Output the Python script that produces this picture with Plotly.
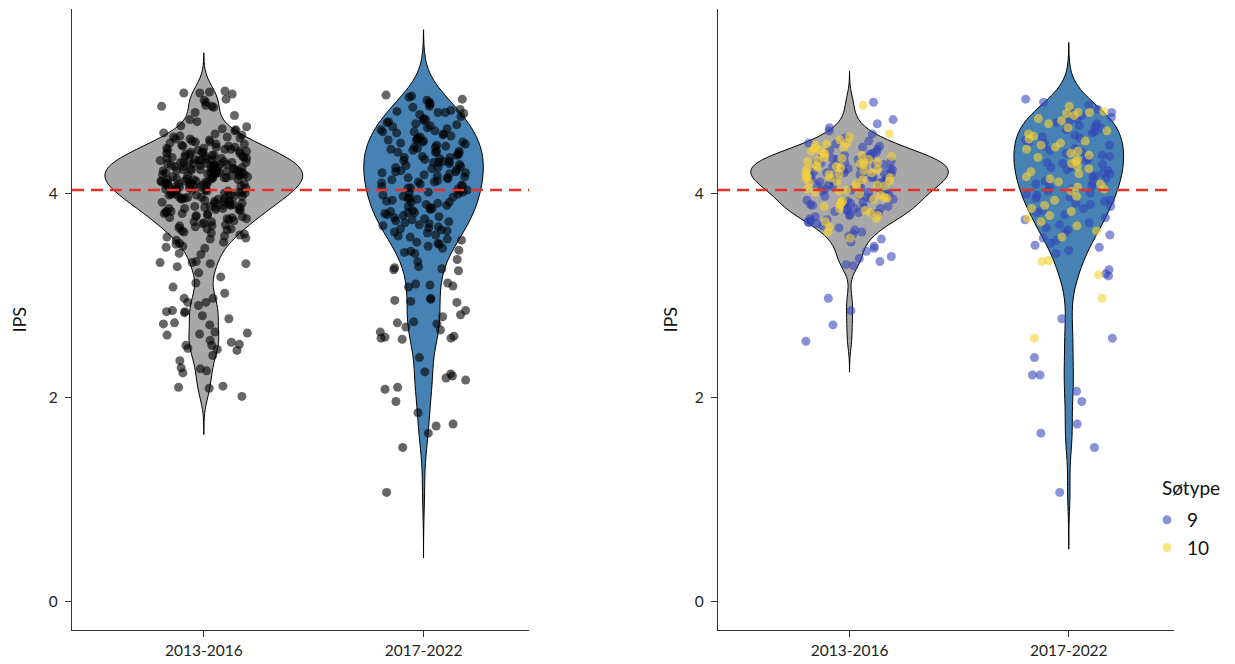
import numpy as np
import plotly.graph_objects as go

# ---------------- data ----------------
periods = ["2013-2016", "2017-2022"]
y_tick_values = [0, 2, 4]
reference_ips = 4.03
lake_types = ["9", "10"]
legend_title = "Søtype"

# left panel: all lakes
ips_all_2013_2016 = [
    5.00, 4.99, 4.98, 4.98, 4.97, 4.92, 4.91, 4.89, 4.86, 4.85, 4.85, 4.84, 4.79, 4.76, 4.72, 4.70,
    4.66, 4.65, 4.63, 4.62, 4.61, 4.59, 4.58, 4.57, 4.56,
    4.55, 4.55, 4.54, 4.53, 4.53, 4.52, 4.51, 4.50, 4.50, 4.49, 4.48, 4.48, 4.47, 4.46, 4.46, 4.45,
    4.45, 4.44, 4.44, 4.43, 4.43, 4.42, 4.42, 4.41, 4.41, 4.40, 4.40, 4.40, 4.39, 4.39, 4.38, 4.38,
    4.37, 4.37, 4.36, 4.36, 4.36, 4.35, 4.35,
    4.34, 4.34, 4.34, 4.33, 4.33, 4.33, 4.32, 4.32, 4.32, 4.31, 4.31, 4.30, 4.30, 4.30, 4.30, 4.29,
    4.29, 4.29, 4.28, 4.28, 4.28, 4.27, 4.27, 4.27, 4.26, 4.26, 4.26, 4.25, 4.25, 4.25,
    4.24, 4.24, 4.24, 4.23, 4.23, 4.23, 4.22, 4.22, 4.22, 4.22, 4.21, 4.21, 4.21, 4.20, 4.20, 4.20,
    4.20, 4.19, 4.19, 4.19, 4.18, 4.18, 4.18, 4.17, 4.17, 4.17, 4.16, 4.16, 4.16, 4.15, 4.15, 4.15,
    4.14, 4.14, 4.14, 4.13, 4.13, 4.13, 4.12, 4.12, 4.12, 4.11, 4.11, 4.11, 4.10, 4.10, 4.10, 4.10,
    4.09, 4.09, 4.09, 4.08, 4.08, 4.08, 4.07, 4.07, 4.07, 4.06, 4.06, 4.06, 4.05, 4.05,
    4.04, 4.04, 4.04, 4.03, 4.03, 4.03, 4.02, 4.02, 4.02, 4.01, 4.01, 4.00, 4.00, 4.00, 3.99, 3.99,
    3.98, 3.98, 3.98, 3.97, 3.97, 3.96, 3.96, 3.96, 3.95, 3.95, 3.95,
    3.94, 3.94, 3.93, 3.93, 3.92, 3.92, 3.91, 3.91, 3.90, 3.90, 3.89, 3.89, 3.88, 3.88, 3.87, 3.87,
    3.86, 3.86, 3.86, 3.85, 3.85, 3.85,
    3.84, 3.84, 3.83, 3.82, 3.82, 3.81, 3.80, 3.80, 3.79, 3.79, 3.78, 3.77, 3.77, 3.76, 3.76, 3.75, 3.75,
    3.74, 3.73, 3.72, 3.72, 3.71, 3.70, 3.69, 3.68, 3.68, 3.67, 3.66, 3.65, 3.65,
    3.64, 3.63, 3.62, 3.61, 3.60, 3.59, 3.58, 3.57, 3.56, 3.55,
    3.54, 3.52, 3.51, 3.50, 3.48, 3.47, 3.46,
    3.41, 3.40, 3.33, 3.32, 3.32, 3.31, 3.31, 3.28, 3.22, 3.18, 3.12, 3.08, 3.02, 2.97, 2.97, 2.93,
    2.93, 2.90, 2.85, 2.84, 2.84, 2.83, 2.80, 2.77, 2.73, 2.72, 2.71, 2.64, 2.63, 2.62, 2.61, 2.56,
    2.54, 2.52, 2.51, 2.51, 2.48, 2.47, 2.46, 2.41, 2.36, 2.29, 2.28, 2.26, 2.24, 2.11, 2.10, 2.09,
    2.01,
]

ips_all_2017_2022 = [
    4.96, 4.95, 4.94, 4.92, 4.91,
    4.89, 4.88, 4.87, 4.85, 4.84, 4.82, 4.81,
    4.80, 4.79, 4.79, 4.78, 4.77, 4.75, 4.73, 4.72, 4.71,
    4.70, 4.69, 4.68, 4.67, 4.66, 4.65, 4.64, 4.63, 4.62, 4.61, 4.60,
    4.60, 4.59, 4.58, 4.57, 4.56, 4.55, 4.54, 4.53, 4.52, 4.52, 4.51, 4.50,
    4.50, 4.49, 4.48, 4.47, 4.46, 4.45, 4.45, 4.44, 4.43, 4.42, 4.41, 4.41, 4.40,
    4.40, 4.39, 4.38, 4.37, 4.36, 4.35, 4.35, 4.34, 4.33, 4.32, 4.31, 4.31, 4.30,
    4.30, 4.29, 4.28, 4.27, 4.26, 4.25, 4.25, 4.24, 4.23, 4.22, 4.21, 4.21, 4.20,
    4.20, 4.19, 4.18, 4.17, 4.16, 4.15, 4.15, 4.14, 4.13, 4.12, 4.11, 4.11, 4.10,
    4.09, 4.08, 4.07, 4.06, 4.05, 4.05, 4.04, 4.03, 4.02, 4.01, 4.01, 4.00,
    3.99, 3.98, 3.97, 3.96, 3.95, 3.95, 3.94, 3.93, 3.92, 3.91, 3.91, 3.90,
    3.89, 3.88, 3.87, 3.86, 3.85, 3.84, 3.83, 3.82, 3.81, 3.81, 3.80,
    3.79, 3.78, 3.77, 3.76, 3.75, 3.74, 3.73, 3.72, 3.71, 3.70,
    3.69, 3.68, 3.67, 3.66, 3.65, 3.64, 3.63, 3.62, 3.61,
    3.59, 3.58, 3.57, 3.55, 3.54, 3.52, 3.51, 3.50,
    3.48, 3.46, 3.44, 3.43, 3.42, 3.41, 3.35, 3.33, 3.28, 3.27, 3.26, 3.25, 3.24, 3.12, 3.11, 3.10,
    3.09, 3.08, 2.97, 2.96, 2.95, 2.94, 2.93, 2.85, 2.81, 2.79, 2.74, 2.73, 2.72, 2.69, 2.66, 2.64,
    2.60, 2.59, 2.58, 2.58, 2.57, 2.39, 2.25, 2.23, 2.21, 2.19, 2.17, 2.10, 2.08, 1.96, 1.85, 1.74,
    1.72, 1.65, 1.51, 1.07,
]

# right panel: lake types 9 and 10
ips_type9_2013_2016 = [
    4.89, 4.72, 4.68, 4.64, 4.61, 4.58, 4.54, 4.51,
    4.49, 4.48, 4.46, 4.45, 4.43, 4.42, 4.40,
    4.39, 4.38, 4.37, 4.37, 4.36, 4.35, 4.34, 4.33, 4.33, 4.32, 4.31, 4.30,
    4.30, 4.29, 4.29, 4.28, 4.27, 4.27, 4.26, 4.25, 4.24, 4.24, 4.23, 4.22, 4.21, 4.21, 4.20,
    4.20, 4.19, 4.19, 4.18, 4.17, 4.17, 4.16, 4.15, 4.14, 4.14, 4.13, 4.12, 4.11, 4.11, 4.10,
    4.09, 4.08, 4.08, 4.07, 4.06, 4.05, 4.05, 4.04, 4.03, 4.02, 4.01, 4.01, 4.00,
    3.99, 3.98, 3.97, 3.96, 3.95, 3.94, 3.93, 3.92, 3.91, 3.90, 3.90,
    3.89, 3.88, 3.87, 3.86, 3.85, 3.85, 3.84, 3.83, 3.82, 3.81, 3.80, 3.80,
    3.79, 3.78, 3.77, 3.75, 3.74, 3.73, 3.72, 3.71, 3.70,
    3.68, 3.66, 3.64, 3.62, 3.60, 3.58, 3.55, 3.52,
    3.48, 3.46, 3.43, 3.38, 3.36, 3.33, 3.30, 3.29, 2.97, 2.85, 2.71, 2.55,
]
ips_type10_2013_2016 = [
    4.86, 4.58, 4.55, 4.52,
    4.49, 4.48, 4.47, 4.45, 4.44, 4.42, 4.41,
    4.39, 4.38, 4.37, 4.36, 4.35, 4.34, 4.33, 4.32, 4.31, 4.30,
    4.30, 4.29, 4.28, 4.27, 4.26, 4.25, 4.25, 4.24, 4.23, 4.22, 4.21, 4.20,
    4.19, 4.18, 4.17, 4.16, 4.15, 4.15, 4.14, 4.13, 4.12, 4.11, 4.10,
    4.09, 4.08, 4.07, 4.06, 4.04, 4.03, 4.02, 4.01,
    3.99, 3.98, 3.96, 3.95, 3.94, 3.92, 3.91,
    3.89, 3.87, 3.85, 3.83, 3.81, 3.78, 3.75, 3.72, 3.67, 3.62, 3.56,
]
ips_type9_2017_2022 = [
    4.92, 4.89, 4.86, 4.82, 4.79, 4.78, 4.76, 4.74, 4.72, 4.70,
    4.69, 4.68, 4.66, 4.65, 4.63, 4.62, 4.60, 4.59, 4.57, 4.55, 4.54, 4.52, 4.50,
    4.49, 4.47, 4.46, 4.44, 4.42, 4.40, 4.39, 4.37, 4.36, 4.34, 4.32, 4.30,
    4.29, 4.28, 4.26, 4.25, 4.23, 4.22, 4.20, 4.19, 4.17, 4.16, 4.14, 4.12, 4.10,
    4.09, 4.07, 4.06, 4.04, 4.02, 4.00, 3.99, 3.98, 3.96, 3.95, 3.93, 3.92, 3.90,
    3.89, 3.87, 3.85, 3.83, 3.81, 3.79, 3.76, 3.74, 3.71, 3.69, 3.66, 3.64, 3.61,
    3.59, 3.56, 3.54, 3.51, 3.49, 3.47, 3.44, 3.41,
    3.25, 3.21, 3.19, 2.77, 2.58, 2.39, 2.22, 2.22, 2.06, 1.96, 1.74, 1.65, 1.51, 1.07,
]
ips_type10_2017_2022 = [
    4.85, 4.80, 4.79, 4.79, 4.78, 4.76, 4.73, 4.71, 4.68, 4.64, 4.61,
    4.58, 4.56, 4.53, 4.51, 4.49, 4.47, 4.45, 4.43, 4.41, 4.39, 4.37, 4.35, 4.33, 4.31,
    4.29, 4.26, 4.24, 4.21, 4.19, 4.16, 4.14, 4.11, 4.09, 4.06, 4.04, 4.02,
    3.97, 3.93, 3.88, 3.85, 3.82, 3.78, 3.75, 3.72, 3.68, 3.63, 3.57,
    3.34, 3.33, 3.20, 2.97, 2.58,
]

# ---------------- styling ----------------
FONT = "Lato, 'Open Sans', sans-serif"
GRAY_FILL = "#A8A8A8"
BLUE_FILL = "#4682B4"
POINT_BLACK = "rgba(0,0,0,0.6)"
TYPE_COLORS = {"9": "rgba(50,68,185,0.58)", "10": "rgba(246,210,55,0.62)"}
RED = "#E3342B"
JITTER_HALF = 0.2

# The page body has an 8 px margin, so the figure is 8 px smaller than the
# window and all pixel positions below are measured in screenshot pixels.
OFF = 8
W, H = 1235 - OFF, 664 - OFF


def nrd0(values):
    v = np.asarray(values, dtype=float)
    sd = v.std(ddof=1)
    q75, q25 = np.percentile(v, [75, 25])
    lo = min(sd, (q75 - q25) / 1.34)
    return 0.9 * lo * len(v) ** -0.2


def jitter_offsets(n, salt):
    i = np.arange(n, dtype=float)
    h = np.sin((i + 1.0) * 12.9898 + salt * 78.233) * 43758.5453
    return JITTER_HALF * (2.0 * (h - np.floor(h)) - 1.0)


def violin(values, pos, color, xa, ya, group):
    v = np.asarray(values, dtype=float)
    bw = nrd0(v)
    return go.Violin(
        x=np.full(len(v), pos, dtype=float), y=v, xaxis=xa, yaxis=ya,
        fillcolor=color, line=dict(color="black", width=1),
        points=False, bandwidth=bw, spanmode="manual",
        span=[v.min() - 3 * bw, v.max() + 3 * bw],
        scalegroup=group, scalemode="width",
        box_visible=False, meanline_visible=False,
        showlegend=False, hoverinfo="skip", opacity=1,
    )


fig = go.Figure()

# ---- left panel ----
left_groups = [ips_all_2013_2016, ips_all_2017_2022]
fills = [GRAY_FILL, BLUE_FILL]
for k, vals in enumerate(left_groups):
    fig.add_trace(violin(vals, k, fills[k], "x", "y", "left"))
for k, vals in enumerate(left_groups):
    fig.add_trace(go.Scatter(
        x=k + jitter_offsets(len(vals), k + 1), y=vals, mode="markers",
        marker=dict(color=POINT_BLACK, size=9, line=dict(width=0)),
        xaxis="x", yaxis="y", showlegend=False, hoverinfo="skip",
    ))

# ---- right panel ----
right_by_type = {
    "9": [ips_type9_2013_2016, ips_type9_2017_2022],
    "10": [ips_type10_2013_2016, ips_type10_2017_2022],
}
for k in range(2):
    combined = right_by_type["9"][k] + right_by_type["10"][k]
    fig.add_trace(violin(combined, k, fills[k], "x2", "y2", "right"))
for t_i, t in enumerate(lake_types):
    xs, ys = [], []
    for k in range(2):
        vals = right_by_type[t][k]
        xs.extend(list(k + jitter_offsets(len(vals), 10 + 3 * t_i + k)))
        ys.extend(vals)
    fig.add_trace(go.Scatter(
        x=xs, y=ys, mode="markers", name=t,
        marker=dict(color=TYPE_COLORS[t], size=9, line=dict(width=0)),
        xaxis="x2", yaxis="y2", showlegend=True, hoverinfo="skip",
    ))

# ---- reference lines ----
for xr, yr in [("x domain", "y"), ("x2 domain", "y2")]:
    fig.add_shape(type="line", xref=xr, yref=yr, x0=0, x1=1,
                  y0=reference_ips, y1=reference_ips,
                  line=dict(color=RED, width=2.5, dash="12px,7px"), layer="above")


def px_x(s):  # screenshot x -> paper fraction
    return (s - OFF) / W


def px_y(s):  # screenshot y -> paper fraction
    return (H - (s - OFF)) / H


axis_common = dict(
    showline=True, linecolor="#333333", linewidth=1.3,
    ticks="outside", ticklen=6, tickwidth=1.3, tickcolor="#333333",
    showgrid=False, zeroline=False,
    tickfont=dict(family=FONT, size=15.5, color="#222222"),
)
x_range = [-0.6, 1.48]
y_range = [-0.277, 5.80]
y_domain = [px_y(630), px_y(9.3)]
title_font = dict(family=FONT, size=18, color="#111111")

fig.update_layout(
    width=W, height=H,
    margin=dict(l=0, r=0, t=0, b=0),
    paper_bgcolor="white", plot_bgcolor="white",
    violinmode="overlay", violingap=0.1, violingroupgap=0,
    font=dict(family=FONT, color="#222222"),
    xaxis=dict(domain=[px_x(72), px_x(529)], range=x_range, tickvals=[0, 1],
               ticktext=periods, anchor="y", **axis_common),
    yaxis=dict(domain=y_domain, range=y_range, tickvals=y_tick_values,
               anchor="x", ticklabelstandoff=4,
               title=dict(text="IPS", font=title_font, standoff=21),
               **axis_common),
    xaxis2=dict(domain=[px_x(718), px_x(1174)], range=x_range, tickvals=[0, 1],
                ticktext=periods, anchor="y2", **axis_common),
    yaxis2=dict(domain=y_domain, range=y_range, tickvals=y_tick_values,
                anchor="x2", ticklabelstandoff=4,
                title=dict(text="IPS", font=title_font, standoff=12),
                **axis_common),
    legend=dict(
        font=dict(family=FONT, size=19, color="#111111"),
        x=px_x(1147), y=px_y(501), xanchor="left", yanchor="top",
        bgcolor="rgba(0,0,0,0)", borderwidth=0,
    ),
    annotations=[dict(
        text=legend_title, xref="paper", yref="paper",
        x=px_x(1160), y=px_y(487), xanchor="left", yanchor="middle",
        showarrow=False, font=dict(family=FONT, size=19, color="#111111"),
    )],
)

fig.write_html("out.html")
